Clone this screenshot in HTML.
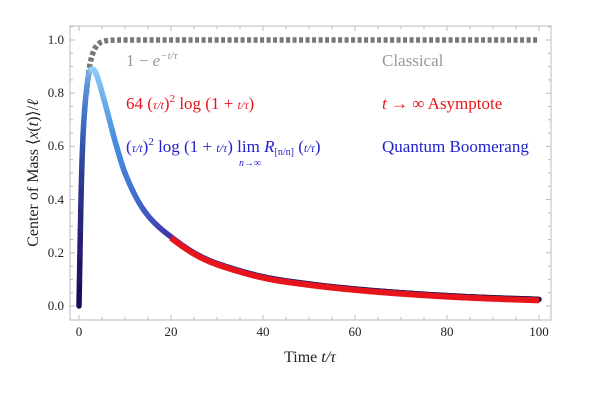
<!DOCTYPE html>
<html><head><meta charset="utf-8"><style>
body{margin:0;background:#fff}
svg text{font-family:"Liberation Serif",serif}
</style></head><body>
<svg id="s" width="600" height="401" xmlns="http://www.w3.org/2000/svg">
<rect x="70" y="26" width="481" height="294" fill="none" stroke="#bbb" stroke-width="1"/>
<g id="ticks" stroke="#bbb" stroke-width="1"></g>
<g font-size="13" fill="#222" text-anchor="end">
<text x="64" y="310">0.0</text><text x="64" y="257">0.2</text><text x="64" y="204">0.4</text><text x="64" y="150">0.6</text><text x="64" y="97">0.8</text><text x="64" y="44">1.0</text>
</g>
<g font-size="13" fill="#222" text-anchor="middle">
<text x="79" y="336">0</text><text x="171" y="336">20</text><text x="263" y="336">40</text><text x="355" y="336">60</text><text x="447" y="336">80</text><text x="539" y="336">100</text>
</g>
<text x="310" y="362" font-size="16" text-anchor="middle" fill="#222">Time <tspan font-style="italic">t/τ</tspan></text>
<text transform="translate(38,173) rotate(-90)" font-size="16" text-anchor="middle" fill="#222">Center of Mass ⟨<tspan font-style="italic">x</tspan>(<tspan font-style="italic">t</tspan>)⟩/<tspan font-style="italic">ℓ</tspan></text>
<path id="gray" fill="none" stroke="#777" stroke-width="5.5" stroke-dasharray="4,2.5"/>
<g id="curve"></g>
<path id="red" fill="none" stroke="#e8141c" stroke-width="6"/>
<g font-size="17">
<text x="126" y="66" fill="#999">1 − <tspan font-style="italic">e</tspan><tspan font-size="11" dy="-7" font-style="italic">−t/τ</tspan></text>
<text x="382" y="66" fill="#999">Classical</text>
<text x="126" y="109" fill="#e8141c">64 (<tspan font-style="italic" font-size="12">τ/t</tspan>)<tspan font-size="11" dy="-7">2</tspan><tspan dy="7"> log (1 + </tspan><tspan font-style="italic" font-size="12">t/τ</tspan>)</text>
<text x="382" y="109" fill="#e8141c"><tspan font-style="italic">t</tspan> → ∞ Asymptote</text>
<text x="126" y="152" fill="#2222cc">(<tspan font-style="italic" font-size="12">τ/t</tspan>)<tspan font-size="11" dy="-7">2</tspan><tspan dy="7"> log (1 + </tspan><tspan font-style="italic" font-size="12">t/τ</tspan>) lim <tspan font-style="italic">R</tspan><tspan font-size="10" dy="3">[n/n]</tspan><tspan dy="-3"> (</tspan><tspan font-style="italic" font-size="12">t/τ</tspan>)</text>
<text x="239" y="166" fill="#2222cc" font-size="10" font-style="italic">n→∞</text>
<text x="382" y="152" fill="#2222cc">Quantum Boomerang</text>
</g>
</svg>
<script>
const X=t=>79+t*4.6, Y=v=>306-v*266;
let tk="";
for(let t=0;t<=100;t+=5){const x=X(t),l=t%20==0?5:3;tk+=`<line x1="${x}" y1="320" x2="${x}" y2="${320-l}"/><line x1="${x}" y1="26" x2="${x}" y2="${26+l}"/>`;}
for(let i=0;i<=21;i++){const v=i*0.05,y=Y(v),l=i%4==0?5:3;if(y<26)continue;tk+=`<line x1="70" y1="${y}" x2="${70+l}" y2="${y}"/><line x1="551" y1="${y}" x2="${551-l}" y2="${y}"/>`;}
document.getElementById('ticks').innerHTML=tk;
let g="";for(let t=1.6;t<=100;t+=0.25){g+=(g?"L":"M")+X(t)+","+Y(1-Math.exp(-t));}
document.getElementById('gray').setAttribute('d',g);
const P=[[0,0],[0.5,0.45],[1,0.68],[2,0.86],[3,0.89],[4,0.86],[6,0.74],[8,0.61],[10,0.5],[13,0.39],[16,0.32],[20,0.26],[25,0.2],[30,0.16],[40,0.11],[50,0.083],[60,0.064],[70,0.05],[80,0.039],[90,0.031],[100,0.025]];
function ev(t){let i=0;while(i<P.length-2&&P[i+1][0]<t)i++;
const p0=P[Math.max(i-1,0)],p1=P[i],p2=P[i+1],p3=P[Math.min(i+2,P.length-1)];
const u=(t-p1[0])/(p2[0]-p1[0]);
const m1=(p2[1]-p0[1])/(p2[0]-p0[0]||1)*(p2[0]-p1[0]),m2=(p3[1]-p1[1])/(p3[0]-p1[0]||1)*(p2[0]-p1[0]);
const h00=2*u*u*u-3*u*u+1,h10=u*u*u-2*u*u+u,h01=-2*u*u*u+3*u*u,h11=u*u*u-u*u;
return h00*p1[1]+h10*m1+h01*p2[1]+h11*m2;}
function col(t){const stops=[[0,[30,10,90]],[1,[60,110,200]],[3,[150,210,245]],[8,[70,140,225]],[20,[60,50,170]],[50,[30,20,100]],[100,[20,15,70]]];
let i=0;while(i<stops.length-2&&stops[i+1][0]<t)i++;const a=stops[i],b=stops[i+1],u=Math.min(1,(t-a[0])/(b[0]-a[0]));
return `rgb(${a[1].map((c,k)=>Math.round(c+(b[1][k]-c)*u)).join(",")})`;}
let c="";const ts=[];for(let t=0;t<100;t+=(t<10?0.1:0.5))ts.push(t);ts.push(100);
for(let k=0;k<ts.length-1;k++){const a=ts[k],b=ts[k+1];c+=`<line x1="${X(a)}" y1="${Y(ev(a))}" x2="${X(b)}" y2="${Y(ev(b))}" stroke="${col(a)}" stroke-width="5.5" stroke-linecap="round"/>`;}
document.getElementById('curve').innerHTML=c;
let r="";for(let t=20;t<=100;t+=0.5){r+=(r?"L":"M")+X(t)+","+(Y(ev(t))+1);}
document.getElementById('red').setAttribute('d',r);
</script>
</body></html>
